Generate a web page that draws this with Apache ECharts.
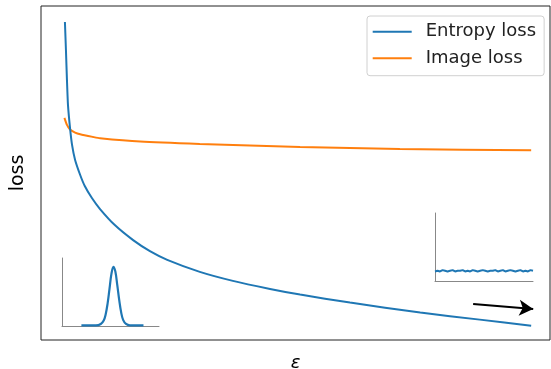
<!DOCTYPE html>
<html><head><meta charset="utf-8">
<script src="https://cdn.jsdelivr.net/npm/echarts@6/dist/echarts.min.js"></script>
<style>html,body{margin:0;padding:0;background:#fff}#c{width:551px;height:369px}</style>
</head><body><div id="c"></div>
<script>
// Main chart: epsilon (0..1) vs loss (0..1, arbitrary units)
const entropyEps  = [0.047,0.049,0.051,0.053,0.057,0.061,0.067,0.077,0.086,0.100,0.116,0.145,0.181,0.214,0.248,0.312,0.377,0.450,0.509,0.607,0.745,0.862,0.963];
const entropyLoss = [0.952,0.868,0.778,0.704,0.635,0.584,0.539,0.494,0.461,0.425,0.392,0.344,0.299,0.266,0.240,0.204,0.177,0.153,0.136,0.112,0.082,0.061,0.043];
const imageEps  = [0.046,0.051,0.057,0.067,0.077,0.102,0.116,0.195,0.312,0.509,0.705,0.963];
const imageLoss = [0.665,0.644,0.630,0.621,0.616,0.608,0.604,0.594,0.587,0.578,0.572,0.568];
// Arrow (start, end) in main axes
const arrowEps  = [0.849, 0.967];
const arrowLoss = [0.108, 0.093];
// Inset 1: peaked distribution
const peakX = [0.20,0.35,0.40,0.43,0.45,0.47,0.49,0.51,0.53,0.55,0.57,0.59,0.61,0.63,0.66,0.70,0.84];
const peakY = [0.01,0.01,0.03,0.08,0.17,0.33,0.55,0.77,0.87,0.80,0.60,0.38,0.20,0.09,0.03,0.01,0.01];
// Inset 2: flat noisy distribution
const flatY = [0.14,0.15,0.14,0.16,0.15,0.14,0.15,0.16,0.14,0.15,0.15,0.16,0.14,0.15,0.14,0.16,0.15,0.14,0.15,0.16,0.15,0.14,0.15,0.15,0.16,0.14,0.15,0.16,0.14,0.15,0.16,0.15,0.14,0.15,0.16,0.14,0.15,0.14,0.16,0.15];
const seriesNames = ['Entropy loss','Image loss'];
const xLabel = 'ε', yLabel = 'loss';

const zip = (a,b)=>a.map((v,i)=>[v,b[i]]);
const FONT = 'DejaVu Sans';
const chart = echarts.init(document.getElementById('c'), null, {renderer:'canvas'});
const hiddenAxis = {axisTick:{show:false},axisLabel:{show:false},splitLine:{show:false}};
const insetAxis = {axisTick:{show:false},axisLabel:{show:false},splitLine:{show:false},
  axisLine:{show:true,lineStyle:{color:'#888',width:1}}};
chart.setOption({
  animation:false,
  textStyle:{fontFamily:FONT},
  grid:[
    {left:41,top:6,right:1,bottom:29,show:true,borderColor:'#222',borderWidth:1,backgroundColor:'#fff',outerBoundsMode:'none',containLabel:false},
    {left:62,top:258,width:97,height:68,outerBoundsMode:'none'},
    {left:435,top:213,width:98,height:68,outerBoundsMode:'none'}
  ],
  xAxis:[
    Object.assign({type:'value',gridIndex:0,min:0,max:1,axisLine:{show:false},
      name:xLabel,nameLocation:'middle',nameGap:14,
      nameTextStyle:{fontSize:18,fontStyle:'italic',color:'#000',fontFamily:FONT}},hiddenAxis),
    Object.assign({type:'value',gridIndex:1,min:0,max:1},insetAxis),
    Object.assign({type:'value',gridIndex:2,min:0,max:flatY.length-1},insetAxis)
  ],
  yAxis:[
    Object.assign({type:'value',gridIndex:0,min:0,max:1,axisLine:{show:false},
      name:yLabel,nameLocation:'middle',nameGap:13,nameRotate:90,
      nameTextStyle:{fontSize:19,color:'#000',fontFamily:FONT}},hiddenAxis),
    Object.assign({type:'value',gridIndex:1,min:0,max:1},insetAxis),
    Object.assign({type:'value',gridIndex:2,min:0,max:1},insetAxis)
  ],
  legend:{
    data:seriesNames, orient:'vertical', left:367, top:16,
    padding:[6.7,8,8.4,5.7], itemWidth:39, itemHeight:18, itemGap:8.6,
    borderColor:'#d0d0d0', borderWidth:1, borderRadius:3, backgroundColor:'#fff',
    textStyle:{fontSize:18,color:'#222',fontFamily:FONT,padding:[0,0,0,9]},
    icon:'path://M0,0 L40,0 L40,2 L0,2 Z'
  },
  series:[
    {name:seriesNames[0],type:'line',xAxisIndex:0,yAxisIndex:0,data:zip(entropyEps,entropyLoss),
      smooth:0.2,symbol:'none',lineStyle:{color:'#1f77b4',width:2},itemStyle:{color:'#1f77b4'},z:3},
    {name:seriesNames[1],type:'line',xAxisIndex:0,yAxisIndex:0,data:zip(imageEps,imageLoss),
      smooth:0.2,symbol:'none',lineStyle:{color:'#ff7f0e',width:2},itemStyle:{color:'#ff7f0e'},z:2},
    {type:'line',xAxisIndex:1,yAxisIndex:1,data:zip(peakX,peakY),smooth:0.4,symbol:'none',
      lineStyle:{color:'#1f77b4',width:2.2}},
    {type:'line',xAxisIndex:2,yAxisIndex:2,data:flatY.map((v,i)=>[i,v]),symbol:'none',
      lineStyle:{color:'#1f77b4',width:2}},
    {type:'line',xAxisIndex:0,yAxisIndex:0,data:[],silent:true,
      markLine:{silent:true,symbol:['none','arrow'],symbolSize:[12,14],label:{show:false},
        lineStyle:{color:'#000',width:2,type:'solid'},
        data:[[{coord:[arrowEps[0],arrowLoss[0]]},{coord:[arrowEps[1],arrowLoss[1]]}]]}}
  ]
});
</script></body></html>
